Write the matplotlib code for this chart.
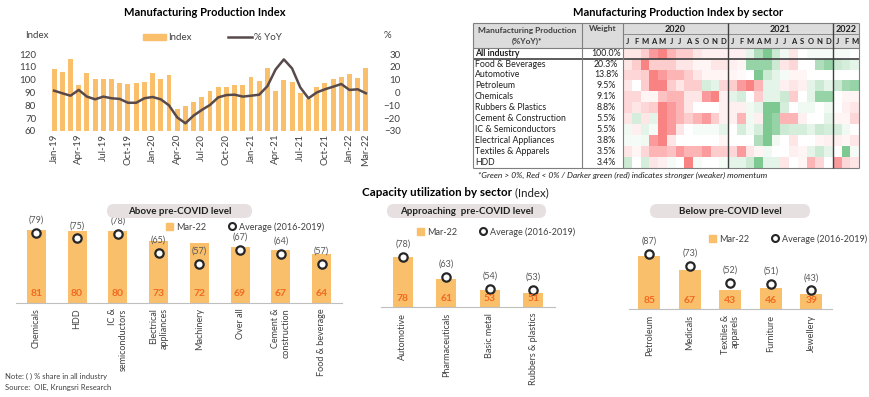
import numpy as np
import matplotlib.pyplot as plt
from matplotlib.colors import LinearSegmentedColormap
from matplotlib.patches import FancyBboxPatch, Patch, Rectangle
from matplotlib.lines import Line2D

plt.rcParams['font.family'] = ['Lato', 'DejaVu Sans']

W, H = 870, 397

# --- Manufacturing Production Index (monthly, Jan-19 .. Mar-22)
month_names = ['Jan', 'Feb', 'Mar', 'Apr', 'May', 'Jun', 'Jul', 'Aug', 'Sep', 'Oct', 'Nov', 'Dec']
months = [f'{m}-{y}' for y in ['19', '20', '21', '22'] for m in month_names][:39]
index_vals = [108.3, 106, 116, 95.8, 105, 100.5, 100.5, 100.5, 97.4, 96.4, 97.4, 98.4,
              105, 100.3, 103.4, 77.1, 79.5, 82.6, 86.5, 91.2, 94, 94.5, 95.8, 95.8,
              102, 99, 109, 91.2, 99.7, 98.2, 89.6, 85, 94.5, 97.4, 100.3, 102,
              104.4, 101.3, 109]
yoy_vals = [1.4, -0.6, -2.5, 2, -3.2, -5.3, -3.2, -4.5, -5, -8, -8, -4.5,
            -3.5, -5.3, -10, -19.4, -24, -18, -13.6, -9.7, -3.8, -2, -1.7, -3.2,
            -2.5, -1.7, 5, 18, 25.8, 18.8, 4, -4.5, 0, 2.5, 4.5, 6.6,
            2, 2.5, -0.6]
tick_idx = [0, 3, 6, 9, 12, 15, 18, 21, 24, 27, 30, 33, 36, 38]

# --- heatmap by sector (momentum score: + green, - red)
sectors = ['All industry', 'Food & Beverages', 'Automotive', 'Petroleum', 'Chemicals',
           'Rubbers & Plastics', 'Cement & Construction', 'IC & Semiconductors',
           'Electrical Appliances', 'Textiles & Apparels', 'HDD']
weights = ['100.0%', '20.3%', '13.8%', '9.5%', '9.1%', '8.8%', '5.5%', '5.5%', '3.8%', '3.5%', '3.4%']
heat_years = ['2020', '2021', '2022']
heat_months = list('JFMAMJJASOND') * 2 + list('JFM')
heat = np.array([
    [-0.5, -0.5, -1, -2, -2.5, -1.5, -1, -1, -0.5, -0.3, -0.3, -0.3, -0.3, -0.3, 0.5, 1.5, 2.5, 1, 0.3, -0.5, 0, 0.2, 0.2, 0.2, 0.2, 0.2, 0],
    [-0.5, -1, -2.5, -1, -1, -1, -0.5, -0.5, -0.2, -0.2, -0.5, -0.5, -0.3, -0.2, 2, 2, 2, 1, -0.5, -0.8, 0, 0, 1.5, 2, 1, 0.8, 0.5],
    [-0.8, -0.8, -1, -2.5, -2, -1.5, -1.5, -1, -0.5, -0.2, -0.2, -0.2, -0.2, -0.1, 0, 2.5, 1, 0.5, 0.2, -0.2, -0.2, 0, 0, 0, 0, 0, 0],
    [-0.5, 0, -1, -2.5, -2.5, -1, -0.5, -1, -1, 0.8, 0.5, -0.8, -1, -2, -2.5, -1.5, 0.5, 0.5, -0.3, -0.5, -0.3, 0.5, 1, 0.5, 1, 1.8, 2],
    [-0.8, -0.8, -0.2, -0.2, -1.2, -1.5, -1.5, -0.5, -0.5, -2, -2.5, -0.3, 0.5, 0.8, 0, -1, 0.5, 0.5, 1, -1, 0, 0.5, 2, 2, 0, -0.2, -0.2],
    [-0.8, -0.5, -0.8, -1, -2.5, -2, -1.5, -0.5, 0, 0, 0, -0.3, -0.3, -0.3, 0.3, 0.5, 2.5, 2.5, 0.8, 0, 0.3, 0.3, 0, 0.3, 0, -0.3, -0.5],
    [-0.5, 0.8, -0.5, 0.5, -2.5, -2, -1.5, -1, -1.5, -2, -1, -0.3, -0.3, -1.5, 0.3, -0.3, 2.5, 2, -1.5, -1.5, -0.3, 0, 0, 0.5, -0.2, -0.2, -0.8],
    [0.3, -0.3, 0.5, 0.2, -2.5, -2, -0.5, 0, 0.2, 0.2, 0.2, 0.5, 0, 0.8, 0.3, 0.8, 2.5, 2, 1, 0.8, 0.8, 0.5, 1, 0.8, 0.8, 0.3, 0],
    [0.2, 0.2, 0.3, -2, -2.5, -0.5, 0, 0, 0, 0, 0, -0.2, 0, 0, 0, 1.5, 2.5, 0.3, 0, -0.5, 0, 0, -0.2, -0.3, -0.3, -0.2, -0.5],
    [-0.5, -0.2, -0.8, -1.5, -1.5, -1.2, -2, -1.5, -1.5, -2, -1, -1, -0.8, -2, -0.5, -0.2, 0.3, 0, 0, -0.3, -0.2, 0.5, 1, 0.5, 0, 2.5, 0.2],
    [1, 0, 0.8, -0.5, -0.3, 0.2, 0, -2.5, 0.2, 0, 0, 0.2, 0.5, 0.5, 1, 2.5, 0.5, 0.5, -0.5, 0, -0.2, -1.5, -0.8, 0, -2, -0.8, -0.5],
])

# --- capacity utilization by sector
above_names = ['Chemicals', 'HDD', 'IC &\nsemiconductors', 'Electrical\nappliances', 'Machinery',
               'Over all', 'Cement &\nconstruction', 'Food & beverage']
above_mar22 = [81, 80, 80, 73, 72, 69, 67, 64]
above_avg = [79, 75, 78, 65, 57, 67, 64, 57]

approach_names = ['Automotive', 'Pharmaceuticals', 'Basic metal', 'Rubbers & plastics']
approach_mar22 = [78, 61, 53, 51]
approach_avg = [78, 63, 54, 53]

below_names = ['Petroleum', 'Medicals', 'Textiles &\napparels', 'Furniture', 'Jewellery']
below_mar22 = [85, 67, 43, 46, 39]
below_avg = [87, 73, 52, 51, 43]

bar_c = '#F9BF6B'
line_c = '#584A4A'
orange = '#F26A1F'
txt_c = '#404040'


def box(x0, y0, x1, y1):
    return [x0 / W, 1 - y1 / H, (x1 - x0) / W, (y1 - y0) / H]


def ftext(x, y, s, **kw):
    return fig.text(x / W, 1 - y / H, s, **kw)


fig = plt.figure(figsize=(W / 100, H / 100), dpi=100)

# ================= top left: index bars + yoy line
ax1 = fig.add_axes(box(50, 54, 370, 131))
x = np.arange(len(months))
ax1.bar(x, index_vals, width=0.6, color=bar_c, zorder=1)
ax1.set_ylim(60, 120)
ax1.set_yticks(range(60, 121, 10))
ax1.set_xlim(-0.5, len(months) - 0.5)
ax1.set_xticks(tick_idx, [months[i] for i in tick_idx], rotation=90, fontsize=6.5)
ax2 = ax1.twinx()
ax2.plot(x, yoy_vals, color=line_c, lw=1.8, zorder=3)
ax2.set_ylim(-30, 30)
ax2.set_yticks(range(-30, 31, 10))
for a in (ax1, ax2):
    for s in a.spines.values():
        s.set_visible(False)
    a.tick_params(length=0, labelsize=7, colors=txt_c, pad=2)
ax1.tick_params(axis='y', pad=10)
for lbl in ax2.get_yticklabels():
    lbl.set_horizontalalignment('right')
ax2.tick_params(axis='y', pad=22)

ftext(205, 12, 'Manufacturing Production Index', ha='center', va='center', fontsize=8, fontweight='bold')
ftext(25, 35, 'Index', ha='left', va='center', fontsize=7, color=txt_c)
ftext(387, 36, '%', ha='center', va='center', fontsize=7, color=txt_c)
ax1.legend([Patch(color=bar_c), Line2D([], [], color=line_c, lw=1.8)], ['Index', '% YoY'],
           loc='center', bbox_to_anchor=(212 / W, 1 - 38 / H), bbox_transform=fig.transFigure,
           ncol=2, frameon=False, fontsize=7, columnspacing=3.8, handlelength=2.4,
           handleheight=0.6, handletextpad=0.2, labelcolor=txt_c)

# ================= top right: heatmap table
axh = fig.add_axes(box(470, 20, 862, 170))
axh.set_xlim(470, 862)
axh.set_ylim(170, 20)
axh.axis('off')
L, C1, C2, X0, CW = 473, 581.7, 623, 623, 8.75
XR = X0 + CW * 27
Y0, RH = 47.7, 10.9
xe = X0 + CW * np.arange(28)
ye = Y0 + RH * np.arange(12)
YB = ye[-1]
cmap = LinearSegmentedColormap.from_list('rg', ['#F8696B', '#FFFFFF', '#63BE7B'])
axh.pcolormesh(xe, ye, heat, cmap=cmap, vmin=-3, vmax=3, shading='flat')
axh.add_patch(Rectangle((L, 22.7), XR - L, Y0 - 22.7, fc='#DCDCDC', ec='none', zorder=0))
axh.hlines([22.7, Y0, YB], L, XR, color='#7F7F7F', lw=0.8)
axh.hlines([Y0 + RH - 0.6, Y0 + RH + 0.6], L, XR, color='#404040', lw=0.6)
axh.hlines(34.3, X0, XR, color='#7F7F7F', lw=0.6)
axh.vlines([L, C1, C2, XR], 22.7, YB, color='#7F7F7F', lw=0.8)
axh.vlines([X0 + CW * 12, X0 + CW * 24], 22.7, YB, color='#404040', lw=1.0)
axh.text((L + C1) / 2, 30, 'Manufacturing Production', ha='center', va='center', fontsize=6, fontweight='bold', color=txt_c)
axh.text((L + C1) / 2, 41, '(%YoY)*', ha='center', va='center', fontsize=6, fontweight='bold', color=txt_c)
axh.text((C1 + C2) / 2, 29, 'Weight', ha='center', va='center', fontsize=6, fontweight='bold', color=txt_c)
for i, yr in enumerate(heat_years):
    x_left = X0 + CW * 12 * i
    x_right = min(X0 + CW * 12 * (i + 1), XR)
    axh.text((x_left + x_right) / 2, 29, yr, ha='center', va='center', fontsize=6.5, fontweight='bold', color='#202020')
for j, m in enumerate(heat_months):
    axh.text(X0 + CW * (j + 0.5), 41.5, m, ha='center', va='center', fontsize=5.5, fontweight='bold', color='#202020')
for i, (s, w) in enumerate(zip(sectors, weights)):
    yc = Y0 + RH * (i + 0.5)
    axh.text(L + 2, yc, s, ha='left', va='center', fontsize=6.3, color='#202020',
             fontweight='bold' if i == 0 else 'normal')
    axh.text(606, yc, w, ha='center', va='center', fontsize=6.3, color='#202020')

ftext(678, 12, 'Manufacturing Production Index by sector', ha='center', va='center', fontsize=8, fontweight='bold')
ftext(478, 175, '*Green > 0%, Red < 0% / Darker green (red) indicates stronger (weaker) momentum',
      ha='left', va='center', fontsize=6, style='italic', color='#202020')

# ================= bottom: capacity utilization
t = ftext(362, 193, 'Capacity utilization by sector', ha='left', va='center', fontsize=8.3, fontweight='bold')
fig.add_artist(plt.Annotation(' (Index)', xy=(1, 0.5), xycoords=t, ha='left', va='center',
                              fontsize=8.3, color='#202020'))


def pill(x0, x1, text):
    y0, y1 = 204, 218
    p = FancyBboxPatch((x0 / W, 1 - y1 / H), (x1 - x0) / W, (y1 - y0) / H,
                       boxstyle='round,pad=0,rounding_size=%f' % (7 / W),
                       mutation_aspect=W / H, transform=fig.transFigure,
                       fc='#E6E0E0', ec='none')
    fig.patches.append(p)
    ftext((x0 + x1) / 2, (y0 + y1) / 2, text, ha='center', va='center', fontsize=7, fontweight='bold', color='#202020')


def cap_panel(rect, names, mar, avg, lo, hi, width, leg_xy):
    ax = fig.add_axes(box(*rect))
    ax.patch.set_visible(False)
    xs = np.arange(len(names))
    ax.bar(xs, mar, width=width, color=bar_c, zorder=1)
    ax.plot(xs, avg, 'o', ms=6, mfc='white', mec='#262626', mew=1.6, zorder=3, clip_on=False)
    for xi, m, a in zip(xs, mar, avg):
        ax.annotate(str(m), (xi, lo), xytext=(0, 6.5), textcoords='offset points', zorder=4,
                    ha='center', va='center', color=orange, fontweight='bold', fontsize=7.5)
        ax.annotate(f'({a})', (xi, a), xytext=(0, 9), textcoords='offset points',
                    ha='center', va='center', color='#595959', fontsize=6.5)
    ax.set_xlim(-0.5, len(names) - 0.5)
    ax.set_ylim(lo, hi)
    ax.set_yticks([])
    ax.set_xticks(xs, names, rotation=90, fontsize=6.5, color=txt_c)
    for lbl in ax.get_xticklabels():
        lbl.set_multialignment('right')
    ax.tick_params(length=0, pad=4)
    for k, s in ax.spines.items():
        s.set_visible(k == 'bottom')
    ax.spines['bottom'].set_color('#BFBFBF')
    ax.legend([Patch(color=bar_c),
               Line2D([], [], marker='o', ls='none', ms=5, mfc='white', mec='#262626', mew=1.5)],
              ['Mar-22', 'Average (2016-2019)'], loc='center',
              bbox_to_anchor=(leg_xy[0] / W, 1 - leg_xy[1] / H), bbox_transform=fig.transFigure,
              ncol=2, frameon=False, fontsize=6.5, handlelength=0.8, handleheight=0.8,
              handletextpad=0.3, columnspacing=2.5, labelcolor=txt_c)
    return ax


pill(107, 252, 'Above pre-COVID level')
cap_panel((16, 209.7, 342, 302.7), above_names, above_mar22, above_avg, 30, 95, 0.47, (245, 227))
pill(387, 546, 'Approaching  pre-COVID level')
cap_panel((381, 227.3, 555, 307.3), approach_names, approach_mar22, approach_avg, 40, 100, 0.46, (496, 232))
pill(650, 810, 'Below pre-COVID level')
cap_panel((629, 226.7, 831.7, 309.3), below_names, below_mar22, below_avg, 20, 120, 0.54, (788, 239))

ftext(5, 376, 'Note: ( ) % share in all industry', ha='left', va='center', fontsize=5.5, color=txt_c)
ftext(5, 387, 'Source:  OIE, Krungsri Research', ha='left', va='center', fontsize=5.5, color=txt_c)

fig.savefig('out.png', dpi=100)
